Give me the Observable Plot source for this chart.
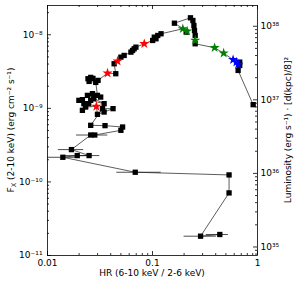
<!DOCTYPE html>
<html><head><meta charset="utf-8">
<script src="https://cdn.jsdelivr.net/npm/d3@7"></script>
<script src="https://cdn.jsdelivr.net/npm/@observablehq/plot@0.6"></script>
<style>body{margin:0;background:#fff;}</style>
</head><body><div id="chart"></div>
<script>
// Track of observations in time order: hardness ratio, flux, marker kind
const hr = [0.4375,0.287,0.536,0.536,0.0685,0.0140,0.0192,0.0249,0.0169,0.0258,0.0282,0.0500,0.0519,0.0353,0.0258,
  0.0334,0.0421,0.0346,0.0299,0.0292,0.0231,0.0215,0.0222,0.0199,0.0215,0.0247,0.0258,0.0346,0.0276,0.0240,0.0268,0.0321,0.0299,
  0.0288,0.0249,0.0243,0.0258,0.0271,0.0303,0.0373,0.0447,0.0431,0.0465,0.0500,0.0537,0.0623,0.0646,0.0669,0.0695,0.0835,
  0.1004,0.108,0.104,0.1122,0.1206,0.1945,0.2092,0.2138,0.1617,0.2299,0.2425,0.2479,0.2512,0.2551,0.2551,0.2551,
  0.3904,0.476,0.5855,0.6295,0.6771,0.6537,0.6771,0.6537,0.9097];
const fx = [1.93e-11,1.83e-11,7.09e-11,1.245e-10,1.354e-10,2.163e-10,2.281e-10,2.281e-10,2.751e-10,4.341e-10,4.341e-10,5.03e-10,5.574e-10,5.823e-10,5.877e-10,
  9.906e-10,9.906e-10,8.91e-10,8.29e-10,1.064e-9,1.041e-9,9.39e-10,1.158e-9,1.284e-9,1.312e-9,1.158e-9,1.284e-9,1.158e-9,1.367e-9,1.501e-9,1.583e-9,1.423e-9,1.501e-9,
  2.253e-9,2.324e-9,2.529e-9,2.634e-9,2.553e-9,2.399e-9,3.013e-9,2.956e-9,4.04e-9,4.383e-9,4.966e-9,5.237e-9,5.805e-9,6.12e-9,6.457e-9,6.788e-9,7.55e-9,
  8.37e-9,8.825e-9,9.28e-9,9.78e-9,1.032e-8,1.206e-8,1.085e-8,1.119e-8,1.437e-8,1.701e-8,1.563e-8,1.337e-8,1.144e-8,9.78e-9,8.37e-9,7.55e-9,
  6.66e-9,5.63e-9,4.58e-9,4.25e-9,4.25e-9,3.954e-9,3.833e-9,3.277e-9,1.122e-9];
const kind = ["s","s","s","s","s","s","s","s","s","s","s","s","s","s","s",
  "s","s","s","s","r","s","s","s","s","s","s","s","s","s","s","s","s","s",
  "s","s","s","s","s","s","r","s","s","r","s","s","s","s","s","s","r",
  "s","s","s","s","s","g","s","g","s","s","s","s","s","s","g","s",
  "g","g","b","b","s","b","s","s","s"];
// Horizontal error bars on the faint points
const errFx = [1.93e-11,1.83e-11,1.354e-10,2.163e-10,2.281e-10,2.281e-10,2.751e-10,4.341e-10];
const errLo = [0.325,0.200,0.0457,0.0100,0.0139,0.0189,0.0127,0.0189];
const errHi = [0.528,0.405,0.121,0.0185,0.0258,0.0315,0.0221,0.0375];
// Axis ticks
const xMajor = [0.01,0.1,1];
const xLabels = ["0.01","0.1","1"];
const yMajor = [1e-11,1e-10,1e-9,1e-8];
const yExp = [-11,-10,-9,-8];
const lMajor = [1e35,1e36,1e37,1e38];
const lExp = [35,36,37,38];
const starColor = {r:"#ff0000", g:"#008000", b:"#0000ff"};

const W=299, H=284, mL=47, mR=42, mT=5, mB=29;
const iW=W-mL-mR, iH=H-mT-mB;
const yDom=[1e-11,2.5e-8], xDom=[0.01,1];
const K = 4*Math.PI*Math.pow(8*3.0857e21,2); // erg/s per erg/cm2/s at 8 kpc

const supMap = {"-":"\u207B","0":"\u2070","1":"\u00B9","2":"\u00B2","3":"\u00B3","4":"\u2074","5":"\u2075","6":"\u2076","7":"\u2077","8":"\u2078","9":"\u2079"};
const sup = n => String(n).split("").map(c=>supMap[c]).join("");

function minors(lo, hi, dom) {
  const out=[];
  for (let e=lo; e<=hi; e++) for (let m=2; m<=9; m++) { const v=m*Math.pow(10,e); if (v>dom[0] && v<dom[1]) out.push(v); }
  return out;
}
const xMinor = minors(-2,-1,xDom);
const yMinor = minors(-12,-8,yDom);
const lMinor = minors(34,38,[yDom[0]*K,yDom[1]*K]).map(v=>v/K);
const lMajorF = lMajor.map(v=>v/K);

const track = hr.map((h,i)=>({hr:h, fx:fx[i], kind:kind[i]}));
const errs = errFx.map((f,i)=>({fx:f, lo:errLo[i], hi:errHi[i]}));

const tk = {stroke:"black", strokeWidth:0.8};
const fs = 9;
const chart = Plot.plot({
  width:W, height:H, marginLeft:mL, marginRight:mR, marginTop:mT, marginBottom:mB,
  style:{fontFamily:"DejaVu Sans", fontSize:"9px", background:"white", color:"black"},
  x:{type:"log", domain:xDom, axis:null},
  y:{type:"log", domain:yDom, axis:null},
  marks:[
    Plot.line(track, {x:"hr", y:"fx", stroke:"#333", strokeWidth:0.8}),
    Plot.ruleY(errs, {y:"fx", x1:"lo", x2:"hi", stroke:"#222", strokeWidth:0.8}),
    Plot.dot(track.filter(d=>d.kind==="s"), {x:"hr", y:"fx", symbol:"square", r:3, fill:"black"}),
    Plot.dot(track.filter(d=>d.kind!=="s"), {x:"hr", y:"fx", symbol:"star", r:3.2, fill:d=>starColor[d.kind]}),
    Plot.frame({stroke:"black", strokeWidth:0.8}),
    Plot.tickX(xMajor, {x:d=>d, insetTop:iH-4, ...tk}),
    Plot.tickX(xMajor, {x:d=>d, insetBottom:iH-4, ...tk}),
    Plot.tickX(xMinor, {x:d=>d, insetTop:iH-2, ...tk}),
    Plot.tickX(xMinor, {x:d=>d, insetBottom:iH-2, ...tk}),
    Plot.tickY(yMajor, {y:d=>d, insetRight:iW-4, ...tk}),
    Plot.tickY(yMinor, {y:d=>d, insetRight:iW-2, ...tk}),
    Plot.tickY(lMajorF, {y:d=>d, insetLeft:iW-4, ...tk}),
    Plot.tickY(lMinor, {y:d=>d, insetLeft:iW-2, ...tk}),
    Plot.axisX(xMajor, {tickSize:0, tickPadding:4, fontSize:fs, tickFormat:(d)=>xLabels[xMajor.indexOf(d)], label:null}),
    Plot.axisY(yMajor, {tickSize:0, tickPadding:5, fontSize:fs, tickFormat:(d)=>"10"+sup(yExp[yMajor.indexOf(d)]), label:null}),
    Plot.axisY(lMajorF, {anchor:"right", tickSize:0, tickPadding:3, fontSize:fs, tickFormat:(d)=>"10"+sup(lExp[lMajorF.indexOf(d)]), label:null})
  ]
});
const svg = d3.select(chart);
svg.append("text").attr("x", mL+iW/2).attr("y", 276).attr("text-anchor","middle")
  .attr("font-size",fs).attr("fill","black").text("HR (6-10 keV / 2-6 keV)");
const yl = svg.append("text").attr("transform",`translate(14,${mT+iH/2}) rotate(-90)`).attr("text-anchor","middle")
  .attr("font-size",fs).attr("fill","black");
yl.append("tspan").text("F");
yl.append("tspan").attr("font-size",6.5).attr("dy",2).text("X");
yl.append("tspan").attr("dy",-2).text(" (2-10 keV) (erg cm\u207B\u00B2 s\u207B\u00B9)");
svg.append("text").attr("transform",`translate(291,${mT+iH/2}) rotate(-90)`).attr("text-anchor","middle")
  .attr("font-size",fs).attr("fill","black").text("Luminosity (erg s\u207B\u00B9) \u00B7 [d(kpc)/8]\u00B2");
document.getElementById("chart").appendChild(chart);
</script>
</body></html>
